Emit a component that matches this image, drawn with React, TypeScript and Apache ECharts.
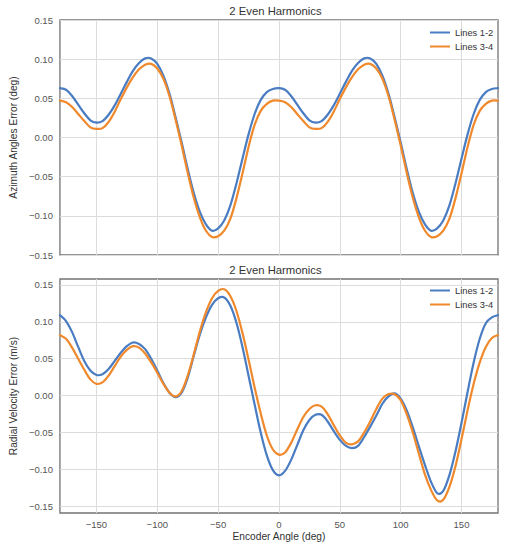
import React, { useEffect, useRef } from "react";
import * as echarts from "echarts";

// Encoder angles (deg)
const angles = [
  -180, -175, -170, -165, -160, -155, -150, -145, -140, -135, -130, -125, -120,
  -115, -110, -105, -100, -95, -90, -85, -80, -75, -70, -65, -60, -55, -50, -45,
  -40, -35, -30, -25, -20, -15, -10, -5, 0, 5, 10, 15, 20, 25, 30, 35, 40, 45,
  50, 55, 60, 65, 70, 75, 80, 85, 90, 95, 100, 105, 110, 115, 120, 125, 130,
  135, 140, 145, 150, 155, 160, 165, 170, 175, 180,
];

// Azimuth angles error (deg) – top panel
const azimuthLines12 = [
  0.063, 0.061, 0.053, 0.042, 0.031, 0.022, 0.019, 0.021, 0.029, 0.041, 0.056,
  0.071, 0.085, 0.095, 0.101, 0.101, 0.094, 0.079, 0.056, 0.026, -0.006, -0.04,
  -0.071, -0.095, -0.111, -0.119, -0.116, -0.106, -0.087, -0.059, -0.027, 0.004,
  0.03, 0.048, 0.058, 0.062, 0.063, 0.061, 0.053, 0.042, 0.031, 0.022, 0.019,
  0.021, 0.029, 0.041, 0.056, 0.071, 0.085, 0.095, 0.101, 0.101, 0.094, 0.079,
  0.056, 0.026, -0.006, -0.04, -0.071, -0.095, -0.111, -0.119, -0.116, -0.106,
  -0.087, -0.059, -0.027, 0.004, 0.03, 0.048, 0.058, 0.062, 0.063,
];
const azimuthLines34 = [
  0.047, 0.045, 0.039, 0.03, 0.021, 0.013, 0.011, 0.012, 0.02, 0.033, 0.049,
  0.064, 0.077, 0.087, 0.093, 0.094, 0.088, 0.075, 0.053, 0.023, -0.01, -0.045,
  -0.077, -0.102, -0.119, -0.127, -0.126, -0.119, -0.104, -0.078, -0.046,
  -0.012, 0.016, 0.034, 0.043, 0.047, 0.047, 0.045, 0.039, 0.03, 0.021, 0.013,
  0.011, 0.012, 0.02, 0.033, 0.049, 0.064, 0.077, 0.087, 0.093, 0.094, 0.088,
  0.075, 0.053, 0.023, -0.01, -0.045, -0.077, -0.102, -0.119, -0.127, -0.126,
  -0.119, -0.104, -0.078, -0.046, -0.012, 0.016, 0.034, 0.043, 0.047, 0.047,
];

// Radial velocity error (m/s) – bottom panel
const velocityLines12 = [
  0.109, 0.101, 0.086, 0.066, 0.047, 0.034, 0.028, 0.029, 0.036, 0.047, 0.058,
  0.067, 0.072, 0.07, 0.063, 0.05, 0.034, 0.017, 0.004, -0.002, 0.004, 0.024,
  0.054, 0.083, 0.106, 0.123, 0.132, 0.133, 0.122, 0.099, 0.066, 0.027, -0.012,
  -0.05, -0.081, -0.101, -0.108, -0.102, -0.087, -0.067, -0.047, -0.033,
  -0.026, -0.026, -0.035, -0.048, -0.06, -0.068, -0.071, -0.068, -0.056,
  -0.042, -0.027, -0.011, -0.001, 0.003, -0.004, -0.02, -0.043, -0.069, -0.094,
  -0.117, -0.132, -0.129, -0.108, -0.076, -0.037, 0.005, 0.045, 0.077, 0.098,
  0.106, 0.109,
];
const velocityLines34 = [
  0.082, 0.077, 0.065, 0.05, 0.035, 0.022, 0.016, 0.018, 0.027, 0.04, 0.053,
  0.062, 0.067, 0.065, 0.057, 0.045, 0.031, 0.016, 0.004, -0.001, 0.006, 0.027,
  0.056, 0.087, 0.113, 0.132, 0.142, 0.144, 0.135, 0.115, 0.085, 0.049, 0.011,
  -0.024, -0.054, -0.073, -0.08, -0.077, -0.064, -0.046, -0.029, -0.018,
  -0.013, -0.015, -0.025, -0.04, -0.054, -0.064, -0.066, -0.062, -0.05, -0.035,
  -0.018, -0.004, 0.002, 0.002, -0.006, -0.025, -0.05, -0.079, -0.107, -0.128,
  -0.142, -0.141, -0.124, -0.096, -0.059, -0.02, 0.016, 0.045, 0.066, 0.078,
  0.082,
];

const xTicks = [-150, -100, -50, 0, 50, 100, 150];
const yTicks = [-0.15, -0.1, -0.05, 0, 0.05, 0.1, 0.15];
const seriesNames = ["Lines 1-2", "Lines 3-4"];
const panelTitle = "2 Even Harmonics";
const topYName = "Azimuth Angles Error (deg)";
const bottomYName = "Radial Velocity Error (m/s)";
const xName = "Encoder Angle (deg)";

const BLUE = "#4a7cc2";
const ORANGE = "#f0892b";
const FONT = "'Liberation Sans', Arial, Helvetica, sans-serif";
const TICK_COLOR = "#555555";
const TEXT_COLOR = "#333333";
const GRID_COLOR = "#dcdcdc";
const FRAME_COLOR = "#737373";

const fmtY = (v: number) => v.toFixed(2).replace("-", "\u2212");
const fmtX = (v: number) => String(Math.round(v)).replace("-", "\u2212");

const pairs = (ys: number[]) => angles.map((a, i) => [a, ys[i]]);

export default function App() {
  const ref = useRef<HTMLDivElement>(null);

  useEffect(() => {
    if (!ref.current) return;
    const chart = echarts.init(ref.current, undefined, { renderer: "svg" });

    const gridLeft = 53;
    const gridRight = 10;
    const plotCenterX = gridLeft + (508 - gridLeft - gridRight) / 2;

    const xAxis = (gridIndex: number, showLabels: boolean) => ({
      type: "value",
      gridIndex,
      min: -180,
      max: 180,
      axisLine: { show: false },
      axisTick: { show: false, customValues: xTicks },
      axisLabel: {
        show: showLabels,
        customValues: xTicks,
        formatter: fmtX,
        color: TICK_COLOR,
        fontSize: 9.5,
        fontFamily: FONT,
        margin: 6,
      },
      splitLine: { show: true, lineStyle: { color: GRID_COLOR, width: 1 } },
      name: showLabels ? xName : "",
      nameLocation: "middle",
      nameGap: 18,
      nameTextStyle: { color: TEXT_COLOR, fontSize: 10.2, fontFamily: FONT },
    });

    const yAxis = (gridIndex: number, min: number, max: number, name: string) => ({
      type: "value",
      gridIndex,
      min,
      max,
      axisLine: { show: false },
      axisTick: { show: false, customValues: yTicks },
      axisLabel: {
        customValues: yTicks,
        formatter: fmtY,
        color: TICK_COLOR,
        fontSize: 9.5,
        fontFamily: FONT,
        margin: 7,
      },
      splitLine: { show: true, lineStyle: { color: GRID_COLOR, width: 1 } },
      name,
      nameLocation: "middle",
      nameGap: 35,
      nameTextStyle: { color: TEXT_COLOR, fontSize: 10.2, fontFamily: FONT },
    });

    // Smooth curve through the data points (uniform Catmull-Rom), positioned
    // with the axes' own scales via api.coord.
    const curve = (name: string, ys: number[], color: string, idx: number) => {
      const pts = pairs(ys);
      return {
        type: "custom",
        name,
        coordinateSystem: "cartesian2d",
        xAxisIndex: idx,
        yAxisIndex: idx,
        data: pts,
        encode: { x: 0, y: 1 },
        itemStyle: { color },
        silent: true,
        renderItem: (params: any, api: any) => {
          if (params.dataIndex !== 0) return null;
          const p = pts.map((d) => api.coord(d));
          let d = `M${p[0][0]},${p[0][1]}`;
          for (let i = 0; i < p.length - 1; i++) {
            const p0 = p[Math.max(i - 1, 0)];
            const p1 = p[i];
            const p2 = p[i + 1];
            const p3 = p[Math.min(i + 2, p.length - 1)];
            const c1x = p1[0] + (p2[0] - p0[0]) / 6;
            const c1y = p1[1] + (p2[1] - p0[1]) / 6;
            const c2x = p2[0] - (p3[0] - p1[0]) / 6;
            const c2y = p2[1] - (p3[1] - p1[1]) / 6;
            d += ` C${c1x},${c1y} ${c2x},${c2y} ${p2[0]},${p2[1]}`;
          }
          return {
            type: "path",
            shape: { pathData: d },
            style: {
              stroke: color,
              fill: "none",
              lineWidth: 2.2,
              lineCap: "round",
              lineJoin: "round",
            },
          };
        },
      };
    };

    const legend = (top: number) => ({
      data: seriesNames,
      orient: "vertical",
      left: 425,
      top,
      icon: "rect",
      itemWidth: 20,
      itemHeight: 2,
      itemGap: 5,
      textStyle: { color: TEXT_COLOR, fontSize: 9.3, fontFamily: FONT },
    });

    chart.setOption({
      animation: false,
      backgroundColor: "#ffffff",
      grid: [
        {
          left: gridLeft,
          right: gridRight,
          top: 20,
          height: 235,
          show: true,
          borderColor: FRAME_COLOR,
          borderWidth: 1.3,
          backgroundColor: "transparent",
        },
        {
          left: gridLeft,
          right: gridRight,
          top: 279,
          height: 234,
          show: true,
          borderColor: FRAME_COLOR,
          borderWidth: 1.3,
          backgroundColor: "transparent",
        },
      ],
      xAxis: [xAxis(0, false), xAxis(1, true)],
      yAxis: [yAxis(0, -0.15, 0.15, topYName), yAxis(1, -0.159, 0.158, bottomYName)],
      legend: [legend(23), legend(281)],
      graphic: [
        {
          type: "text",
          x: plotCenterX,
          y: 11,
          style: {
            text: panelTitle,
            align: "center",
            verticalAlign: "middle",
            fontSize: 11.3,
            fontFamily: FONT,
            fill: TEXT_COLOR,
          },
        },
        {
          type: "text",
          x: plotCenterX,
          y: 270,
          style: {
            text: panelTitle,
            align: "center",
            verticalAlign: "middle",
            fontSize: 11.3,
            fontFamily: FONT,
            fill: TEXT_COLOR,
          },
        },
      ],
      series: [
        curve(seriesNames[0], azimuthLines12, BLUE, 0),
        curve(seriesNames[1], azimuthLines34, ORANGE, 0),
        curve(seriesNames[0], velocityLines12, BLUE, 1),
        curve(seriesNames[1], velocityLines34, ORANGE, 1),
      ],
    });

    return () => chart.dispose();
  }, []);

  return (
    <div
      ref={ref}
      style={{
        position: "absolute",
        left: 0,
        top: 0,
        width: 508,
        height: 550,
        background: "#ffffff",
      }}
    />
  );
}
